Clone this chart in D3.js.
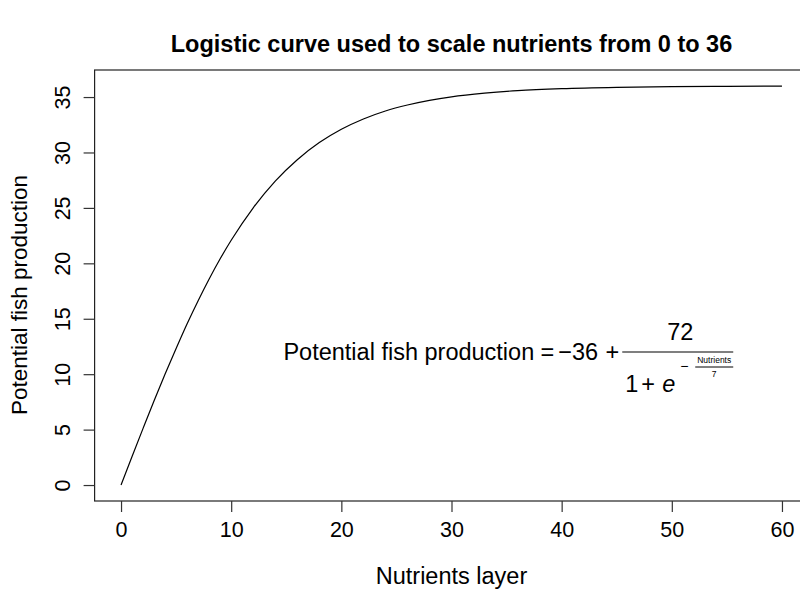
<!DOCTYPE html>
<html>
<head>
<meta charset="utf-8">
<script src="https://cdn.jsdelivr.net/npm/d3@7"></script>
<style>
  html, body { margin: 0; padding: 0; background: #fff; overflow: hidden; }
  svg { display: block; font-family: "Liberation Sans", Arial, Helvetica, sans-serif; }
</style>
</head>
<body>
<div id="chart"></div>
<script>
/* ============================================================
   Logistic curve — nutrients layer vs potential fish production
   ============================================================ */

// values
var nutrients  = [0, 1, 2, 3, 4, 5, 6, 7, 8, 9, 10, 12, 14, 16, 18, 20, 22, 24, 26, 28, 30, 33, 36, 40, 45, 50, 55, 60];
var production = [0, 2.57, 5.11, 7.61, 10.01, 12.32, 14.55, 16.63, 18.59, 20.41, 22.08, 25.01, 27.42, 29.35,
                  30.89, 32.09, 33.02, 33.74, 34.28, 34.70, 35.02, 35.35, 35.58, 35.76, 35.88, 35.94, 35.97, 35.99];
var xTicks = [0, 10, 20, 30, 40, 50, 60];
var yTicks = [0, 5, 10, 15, 20, 25, 30, 35];

var W = 800, H = 591;
// plot region (R style: data range + 4% on each side)
var P = {left: 94.6, top: 70, right: 808.4, bottom: 501};

var svg = d3.select('#chart').append('svg')
    .attr('width', W)
    .attr('height', H);

var x = d3.scaleLinear().domain([-2.4, 62.4]).range([P.left, P.right]);
var y = d3.scaleLinear().domain([-1.44, 37.44]).range([P.bottom, P.top]);

// Title
svg.append('text')
    .attr('x', (P.left + P.right) / 2)
    .attr('y', 52)
    .attr('text-anchor', 'middle')
    .attr('font-weight', 'bold')
    .attr('font-size', '23.5px')
    .text('Logistic curve used to scale nutrients from 0 to 36');

// Curve
var line = d3.line()
    .x(function(d, i) { return x(nutrients[i]); })
    .y(function(d) { return y(d); })
    .curve(d3.curveMonotoneX);

svg.append('path')
    .datum(production)
    .attr('fill', 'none')
    .attr('stroke', '#000')
    .attr('stroke-width', 1.2)
    .attr('d', line);

// Box
svg.append('rect')
    .attr('x', P.left).attr('y', P.top)
    .attr('width', P.right - P.left).attr('height', P.bottom - P.top)
    .attr('fill', 'none')
    .attr('stroke', '#222')
    .attr('stroke-width', 1.2);

// Axes
var xAxis = svg.append('g')
    .attr('transform', 'translate(0,' + P.bottom + ')')
    .call(d3.axisBottom(x).tickValues(xTicks).tickSize(11).tickPadding(10).tickFormat(d3.format('d')));
var yAxis = svg.append('g')
    .attr('transform', 'translate(' + P.left + ',0)')
    .call(d3.axisLeft(y).tickValues(yTicks).tickSize(11).tickFormat(d3.format('d')));

svg.selectAll('.domain').remove();
svg.selectAll('.tick line').attr('stroke', '#333').attr('stroke-width', 1.2);
svg.selectAll('.tick text')
    .attr('fill', '#000')
    .style('font-family', '"Liberation Sans", Arial, Helvetica, sans-serif')
    .style('font-size', '21.5px');

// y tick labels run parallel to the axis (R default las = 0)
yAxis.selectAll('.tick text')
    .attr('x', null).attr('dy', null)
    .attr('text-anchor', 'middle')
    .attr('transform', 'translate(-25,0) rotate(-90)');

// Axis titles
svg.append('text')
    .attr('x', (P.left + P.right) / 2)
    .attr('y', 584)
    .attr('text-anchor', 'middle')
    .attr('font-size', '23.5px')
    .text('Nutrients layer');

svg.append('text')
    .attr('transform', 'translate(27,295) rotate(-90)')
    .attr('text-anchor', 'middle')
    .attr('font-size', '22.5px')
    .text('Potential fish production');

// Formula annotation, anchored at the left end of the fraction bar
var f = svg.append('g')
    .attr('transform', 'translate(' + x(45.5) + ',' + y(12) + ')')
    .attr('font-size', '23.5px');

f.append('text').attr('x', -88).attr('y', 8).attr('text-anchor', 'end').text('Potential fish production');
f.append('text').attr('x', -75).attr('y', 8).attr('text-anchor', 'middle').text('=');
f.append('text').attr('x', -64).attr('y', 8).text('\u221236');
f.append('text').attr('x', -10).attr('y', 8).attr('text-anchor', 'middle').text('+');
f.append('line').attr('x1', 0).attr('x2', 111).attr('y1', 0).attr('y2', 0)
    .attr('stroke', '#000').attr('stroke-width', 1.2);
f.append('text').attr('x', 58).attr('y', -12).attr('text-anchor', 'middle').text('72');
f.append('text').attr('x', 3).attr('y', 40).text('1');
f.append('text').attr('x', 26).attr('y', 40).attr('text-anchor', 'middle').text('+');
f.append('text').attr('x', 40).attr('y', 40).attr('font-style', 'italic').text('e');
f.append('text').attr('x', 62).attr('y', 19).attr('text-anchor', 'middle').attr('font-size', '14px').text('\u2212');
f.append('line').attr('x1', 73).attr('x2', 111).attr('y1', 15).attr('y2', 15)
    .attr('stroke', '#000').attr('stroke-width', 1);
f.append('text').attr('x', 92).attr('y', 11).attr('text-anchor', 'middle').attr('font-size', '8.5px').text('Nutrients');
f.append('text').attr('x', 92).attr('y', 25).attr('text-anchor', 'middle').attr('font-size', '8.5px').text('7');
</script>
</body>
</html>
